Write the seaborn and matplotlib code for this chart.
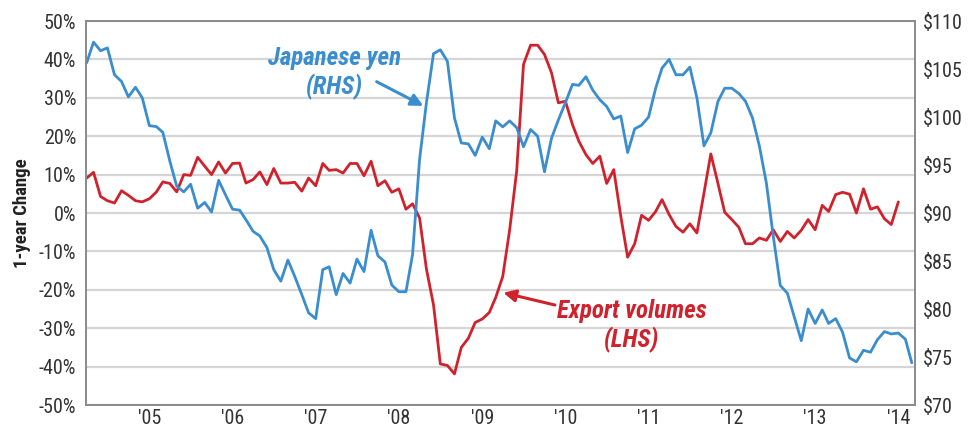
import pandas as pd
import matplotlib.pyplot as plt
import seaborn as sns

# Japanese yen per USD (right axis), monthly
yen = [105.65, 107.8, 106.9, 107.2, 104.4, 103.7, 102.1, 103.1, 102.0, 99.1,
       99.0, 98.4, 95.4, 92.8, 92.2, 93.0, 90.5, 91.1, 90.1, 93.4,
       91.9, 90.4, 90.3, 89.3, 88.1, 87.6, 86.4, 84.1, 82.9, 85.1,
       83.4, 81.5, 79.6, 79.0, 84.1, 84.4, 81.5, 83.7, 82.7, 85.2,
       83.9, 88.2, 85.55, 84.9, 82.5, 81.8, 81.8, 85.65, 95.6, 101.5,
       106.6, 107.0, 105.8, 99.9, 97.3, 97.2, 96.0, 97.9, 96.7, 99.6,
       98.97, 99.6, 98.9, 96.9, 98.7, 98.0, 94.3, 97.8, 99.7, 101.5,
       103.4, 103.3, 104.2, 102.8, 101.8, 101.1, 99.8, 100.1, 96.3,
       98.77, 99.15, 100.0, 103.0, 105.1, 106.0, 104.4, 104.4, 105.2, 102.0,
       97.0, 98.35, 101.6, 103.0, 103.0, 102.45, 101.65, 99.9, 97.0, 93.1,
       87.6, 82.45, 81.65, 79.2, 76.7, 80.0, 78.5, 79.9, 78.5, 79.0,
       77.6, 74.9, 74.5, 75.7, 75.5, 76.8, 77.65, 77.4, 77.5, 76.85, 74.4]

# Export volumes, 1-year change in % (left axis), monthly
exports = [9.1, 10.6, 4.3, 3.2, 2.6, 5.8, 4.6, 3.2, 2.9, 3.7,
           5.5, 8.1, 7.7, 5.5, 10.0, 9.8, 14.5, 12.2, 10.0, 13.3,
           10.4, 12.9, 13.0, 7.8, 8.7, 10.7, 7.4, 11.6, 7.8, 7.8,
           8.0, 5.7, 9.1, 7.1, 12.9, 11.1, 11.3, 10.4, 12.9, 12.9,
           9.7, 13.5, 7.1, 8.4, 5.4, 6.3, 1.0, 2.4, -1.3, -14.6,
           -23.9, -39.3, -39.7, -41.9, -35.0, -32.6, -28.5, -27.6, -25.9, -22.0,
           -16.5, -4.5, 10.9, 38.7, 43.7, 43.7, 41.3, 36.5, 28.7, 29.1,
           23.0, 18.7, 15.2, 12.9, 14.8, 7.7, 11.3, -0.9, -11.5,
           -8.0, -0.6, -1.9, 0.4, 3.5, -0.4, -3.5, -5.0, -2.8, -5.2,
           5.2, 15.4, 7.8, 0.2, -1.7, -3.7, -8.0, -8.0, -6.5, -7.1,
           -4.35, -7.4, -4.8, -6.5, -4.5, -1.7, -4.35, 2.0, 0.4, 4.8,
           5.4, 4.9, 0.0, 6.3, 1.0, 1.6, -1.5, -3.0, 2.9]

year_ticks = list(range(2005, 2015))
year_labels = ["'05", "'06", "'07", "'08", "'09", "'10", "'11", "'12", "'13", "'14"]

dates = pd.date_range("2004-04-01", periods=len(yen), freq="MS")
df_yen = pd.DataFrame({"date": dates, "yen": yen})
df_exp = pd.DataFrame({"date": dates[:len(exports)], "exports": exports})

BLUE = "#3a8dcf"
RED = "#d0222d"
TXT = "#333333"

sns.set_style("white")
plt.rcParams["font.family"] = ["Roboto Condensed", "Liberation Sans Narrow",
                               "Liberation Sans", "DejaVu Sans"]

fig = plt.figure(figsize=(9.74, 4.28), dpi=100)
ax = fig.add_axes([0.0883, 0.0537, 0.8511, 0.8972])
ax2 = ax.twinx()

sns.lineplot(data=df_exp, x="date", y="exports", ax=ax, color=RED, lw=2.0)
sns.lineplot(data=df_yen, x="date", y="yen", ax=ax2, color=BLUE, lw=2.0)

ax.set_ylim(-50, 50)
ax.set_yticks(range(-50, 51, 10))
ax.set_yticklabels([f"{v}%" for v in range(-50, 51, 10)])
ax2.set_ylim(70, 110)
ax2.set_yticks(range(70, 111, 5))
ax2.set_yticklabels([f"${v}" for v in range(70, 111, 5)])

ax.set_xlim(dates[0] - pd.Timedelta(days=3), dates[-1] + pd.Timedelta(days=14))
ax.set_xticks([pd.Timestamp(f"{y}-01-01") for y in year_ticks])
ax.set_xticklabels(year_labels)

ax.yaxis.grid(True, color="#d5d5d5", lw=1.6)
ax.xaxis.grid(False)
ax.set_axisbelow(True)

for a in (ax, ax2):
    for s in a.spines.values():
        s.set_color("#8a8a8a")
        s.set_linewidth(1.2)
    a.tick_params(length=0, labelsize=14.5, colors=TXT)
ax.tick_params(axis="y", pad=7)
ax.tick_params(axis="x", pad=3)
ax2.tick_params(axis="y", pad=6)

ax.set_xlabel("")
ax2.set_ylabel("")
ax.set_ylabel("1-year Change", fontsize=13.5, fontweight="bold", color="#222222")
ax.yaxis.set_label_coords(-0.066, 0.5)

ax.annotate("", xy=(0.4069, 0.779), xytext=(0.3506, 0.842), xycoords="axes fraction",
            arrowprops=dict(arrowstyle="-|>", color=BLUE, lw=2.2, mutation_scale=18,
                            shrinkA=0, shrinkB=0))
ax.text(0.300, 0.865, "Japanese yen\n(RHS)", transform=ax.transAxes, ha="center",
        va="center", color=BLUE, fontsize=18, fontweight="bold", style="italic",
        linespacing=1.15)

ax.annotate("", xy=(0.5034, 0.2924), xytext=(0.5657, 0.2604), xycoords="axes fraction",
            arrowprops=dict(arrowstyle="-|>", color=RED, lw=2.2, mutation_scale=18,
                            shrinkA=0, shrinkB=0))
ax.text(0.6586, 0.2057, "Export volumes\n(LHS)", transform=ax.transAxes, ha="center",
        va="center", color=RED, fontsize=18, fontweight="bold", style="italic",
        linespacing=1.15)

fig.savefig("out.png", dpi=100)
